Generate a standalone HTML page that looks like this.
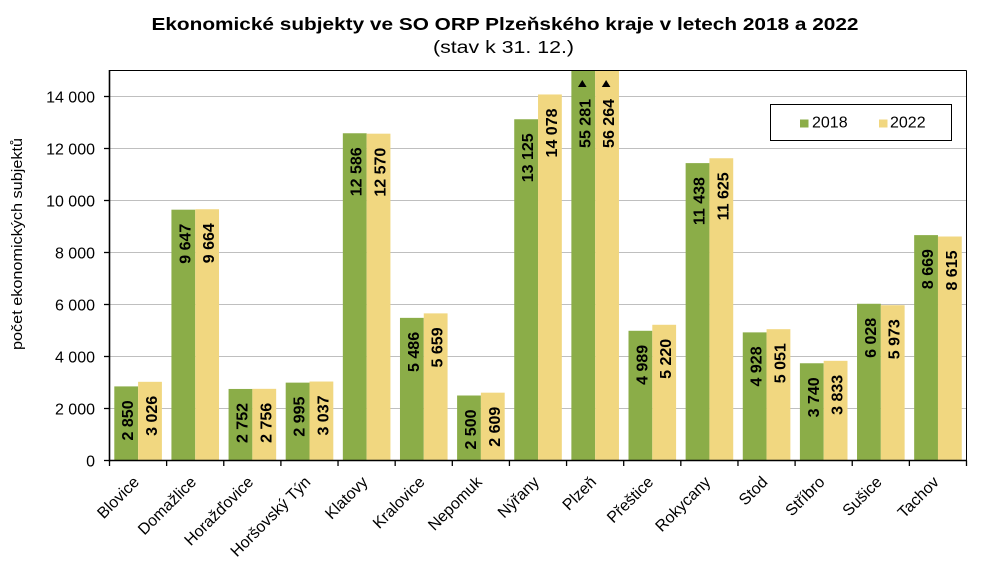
<!DOCTYPE html>
<html>
<head>
<meta charset="utf-8">
<style>
html,body{margin:0;padding:0;background:#fff;}
svg{display:block;}
text{font-family:"Liberation Sans",Arial,sans-serif;fill:#000;}
.yl{font-size:16px;text-anchor:end;}
.xl{font-size:16px;text-anchor:end;}
.dl{font-size:16px;font-weight:bold;text-anchor:end;}
</style>
</head>
<body>
<svg width="1004" height="583" viewBox="0 0 1004 583" xmlns="http://www.w3.org/2000/svg">
<rect x="0" y="0" width="1004" height="583" fill="#fff"/>
<!-- Title -->
<text x="505" y="30" text-anchor="middle" font-size="17.5" font-weight="bold" textLength="707" lengthAdjust="spacingAndGlyphs">Ekonomické subjekty ve SO ORP Plzeňského kraje v letech 2018 a 2022</text>
<text x="503.5" y="53" text-anchor="middle" font-size="17.5" textLength="141" lengthAdjust="spacingAndGlyphs">(stav k 31. 12.)</text>

<!-- gridlines -->
<g stroke="#BFBFBF" stroke-width="1">
<line x1="109.5" y1="408.5" x2="966.5" y2="408.5"/>
<line x1="109.5" y1="356.5" x2="966.5" y2="356.5"/>
<line x1="109.5" y1="304.5" x2="966.5" y2="304.5"/>
<line x1="109.5" y1="252.5" x2="966.5" y2="252.5"/>
<line x1="109.5" y1="200.5" x2="966.5" y2="200.5"/>
<line x1="109.5" y1="148.5" x2="966.5" y2="148.5"/>
<line x1="109.5" y1="96.5" x2="966.5" y2="96.5"/>
</g>

<!-- bars -->
<g fill="#8BAD48">
<rect x="114.3" y="386.4" width="23.8" height="74.1"/>
<rect x="171.43" y="209.68" width="23.8" height="250.82"/>
<rect x="228.57" y="388.95" width="23.8" height="71.55"/>
<rect x="285.7" y="382.63" width="23.8" height="77.87"/>
<rect x="342.83" y="133.26" width="23.8" height="327.24"/>
<rect x="399.97" y="317.86" width="23.8" height="142.64"/>
<rect x="457.1" y="395.5" width="23.8" height="65"/>
<rect x="514.23" y="119.25" width="23.8" height="341.25"/>
<rect x="571.37" y="70.5" width="23.8" height="390"/>
<rect x="628.5" y="330.79" width="23.8" height="129.71"/>
<rect x="685.63" y="163.11" width="23.8" height="297.39"/>
<rect x="742.77" y="332.37" width="23.8" height="128.13"/>
<rect x="799.9" y="363.26" width="23.8" height="97.24"/>
<rect x="857.03" y="303.77" width="23.8" height="156.73"/>
<rect x="914.17" y="235.11" width="23.8" height="225.39"/>
</g>
<g fill="#F1D780">
<rect x="138.1" y="381.82" width="23.8" height="78.68"/>
<rect x="195.23" y="209.24" width="23.8" height="251.26"/>
<rect x="252.37" y="388.84" width="23.8" height="71.66"/>
<rect x="309.5" y="381.54" width="23.8" height="78.96"/>
<rect x="366.63" y="133.68" width="23.8" height="326.82"/>
<rect x="423.77" y="313.37" width="23.8" height="147.13"/>
<rect x="480.9" y="392.67" width="23.8" height="67.83"/>
<rect x="538.03" y="94.47" width="23.8" height="366.03"/>
<rect x="595.17" y="70.5" width="23.8" height="390"/>
<rect x="652.3" y="324.78" width="23.8" height="135.72"/>
<rect x="709.43" y="158.25" width="23.8" height="302.25"/>
<rect x="766.57" y="329.17" width="23.8" height="131.33"/>
<rect x="823.7" y="360.84" width="23.8" height="99.66"/>
<rect x="880.83" y="305.2" width="23.8" height="155.3"/>
<rect x="937.97" y="236.51" width="23.8" height="223.99"/>
</g>

<!-- data labels -->
<g class="dl">
<text class="dl" transform="translate(133.2,400.4) rotate(-90)">2 850</text>
<text class="dl" transform="translate(157.0,395.8) rotate(-90)">3 026</text>
<text class="dl" transform="translate(190.33,223.7) rotate(-90)">9 647</text>
<text class="dl" transform="translate(214.13,223.2) rotate(-90)">9 664</text>
<text class="dl" transform="translate(247.47,403.0) rotate(-90)">2 752</text>
<text class="dl" transform="translate(271.27,402.8) rotate(-90)">2 756</text>
<text class="dl" transform="translate(304.6,396.6) rotate(-90)">2 995</text>
<text class="dl" transform="translate(328.4,395.5) rotate(-90)">3 037</text>
<text class="dl" transform="translate(361.73,147.3) rotate(-90)">12 586</text>
<text class="dl" transform="translate(385.53,147.7) rotate(-90)">12 570</text>
<text class="dl" transform="translate(418.87,331.9) rotate(-90)">5 486</text>
<text class="dl" transform="translate(442.67,327.4) rotate(-90)">5 659</text>
<text class="dl" transform="translate(476.0,409.5) rotate(-90)">2 500</text>
<text class="dl" transform="translate(499.8,406.7) rotate(-90)">2 609</text>
<text class="dl" transform="translate(533.13,133.3) rotate(-90)">13 125</text>
<text class="dl" transform="translate(556.93,108.5) rotate(-90)">14 078</text>
<text class="dl" transform="translate(590.27,99) rotate(-90)">55 281</text>
<text class="dl" transform="translate(614.07,99) rotate(-90)">56 264</text>
<text class="dl" transform="translate(647.4,344.8) rotate(-90)">4 989</text>
<text class="dl" transform="translate(671.2,338.8) rotate(-90)">5 220</text>
<text class="dl" transform="translate(704.53,177.1) rotate(-90)">11 438</text>
<text class="dl" transform="translate(728.33,172.3) rotate(-90)">11 625</text>
<text class="dl" transform="translate(761.67,346.4) rotate(-90)">4 928</text>
<text class="dl" transform="translate(785.47,343.2) rotate(-90)">5 051</text>
<text class="dl" transform="translate(818.8,377.3) rotate(-90)">3 740</text>
<text class="dl" transform="translate(842.6,374.8) rotate(-90)">3 833</text>
<text class="dl" transform="translate(875.93,317.8) rotate(-90)">6 028</text>
<text class="dl" transform="translate(899.73,319.2) rotate(-90)">5 973</text>
<text class="dl" transform="translate(933.07,249.1) rotate(-90)">8 669</text>
<text class="dl" transform="translate(956.87,250.5) rotate(-90)">8 615</text>
</g>
<!-- Plzeň overflow triangles -->
<polygon points="578,87 586.6,87 582.3,80" fill="#000"/>
<polygon points="601.8,87 610.4,87 606.1,80" fill="#000"/>

<!-- plot frame & axes -->
<g stroke="#000" fill="none">
<line x1="109.5" y1="70.5" x2="966.5" y2="70.5" stroke-width="1"/>
<line x1="966.5" y1="70.5" x2="966.5" y2="461" stroke-width="1"/>
<line x1="109.5" y1="70" x2="109.5" y2="461.5" stroke-width="1.6"/>
<line x1="109" y1="460.5" x2="967" y2="460.5" stroke-width="1.6"/>
</g>
<!-- y ticks -->
<g stroke="#000" stroke-width="1.3">
<line x1="104" y1="460.5" x2="109.5" y2="460.5"/>
<line x1="104" y1="408.5" x2="109.5" y2="408.5"/>
<line x1="104" y1="356.5" x2="109.5" y2="356.5"/>
<line x1="104" y1="304.5" x2="109.5" y2="304.5"/>
<line x1="104" y1="252.5" x2="109.5" y2="252.5"/>
<line x1="104" y1="200.5" x2="109.5" y2="200.5"/>
<line x1="104" y1="148.5" x2="109.5" y2="148.5"/>
<line x1="104" y1="96.5" x2="109.5" y2="96.5"/>
</g>
<!-- x ticks -->
<g stroke="#000" stroke-width="1.3">
<line x1="109.5" y1="460.5" x2="109.5" y2="466"/>
<line x1="166.63" y1="460.5" x2="166.63" y2="466"/>
<line x1="223.77" y1="460.5" x2="223.77" y2="466"/>
<line x1="280.9" y1="460.5" x2="280.9" y2="466"/>
<line x1="338.03" y1="460.5" x2="338.03" y2="466"/>
<line x1="395.17" y1="460.5" x2="395.17" y2="466"/>
<line x1="452.3" y1="460.5" x2="452.3" y2="466"/>
<line x1="509.43" y1="460.5" x2="509.43" y2="466"/>
<line x1="566.57" y1="460.5" x2="566.57" y2="466"/>
<line x1="623.7" y1="460.5" x2="623.7" y2="466"/>
<line x1="680.83" y1="460.5" x2="680.83" y2="466"/>
<line x1="737.97" y1="460.5" x2="737.97" y2="466"/>
<line x1="795.1" y1="460.5" x2="795.1" y2="466"/>
<line x1="852.23" y1="460.5" x2="852.23" y2="466"/>
<line x1="909.37" y1="460.5" x2="909.37" y2="466"/>
<line x1="966.5" y1="460.5" x2="966.5" y2="466"/>
</g>

<!-- y tick labels -->
<text class="yl" x="95" y="466.3">0</text>
<text class="yl" x="95" y="414.3">2 000</text>
<text class="yl" x="95" y="362.3">4 000</text>
<text class="yl" x="95" y="310.3">6 000</text>
<text class="yl" x="95" y="258.3">8 000</text>
<text class="yl" x="95" y="206.3">10 000</text>
<text class="yl" x="95" y="154.3">12 000</text>
<text class="yl" x="95" y="102.3">14 000</text>

<!-- y axis title -->
<text transform="translate(22,244) rotate(-90)" text-anchor="middle" font-size="15" textLength="212" lengthAdjust="spacingAndGlyphs">počet ekonomických subjektů</text>

<!-- x labels -->
<text class="xl" transform="translate(140.07,483) rotate(-45)">Blovice</text>
<text class="xl" transform="translate(197.2,483) rotate(-45)">Domažlice</text>
<text class="xl" transform="translate(254.33,483) rotate(-45)">Horažďovice</text>
<text class="xl" transform="translate(311.47,483) rotate(-45)">Horšovský Týn</text>
<text class="xl" transform="translate(368.6,483) rotate(-45)">Klatovy</text>
<text class="xl" transform="translate(425.73,483) rotate(-45)">Kralovice</text>
<text class="xl" transform="translate(482.87,483) rotate(-45)">Nepomuk</text>
<text class="xl" transform="translate(540.0,483) rotate(-45)">Nýřany</text>
<text class="xl" transform="translate(597.13,483) rotate(-45)">Plzeň</text>
<text class="xl" transform="translate(654.27,483) rotate(-45)">Přeštice</text>
<text class="xl" transform="translate(711.4,483) rotate(-45)">Rokycany</text>
<text class="xl" transform="translate(768.53,483) rotate(-45)">Stod</text>
<text class="xl" transform="translate(825.67,483) rotate(-45)">Stříbro</text>
<text class="xl" transform="translate(882.8,483) rotate(-45)">Sušice</text>
<text class="xl" transform="translate(939.93,483) rotate(-45)">Tachov</text>

<!-- legend -->
<rect x="770.5" y="104.5" width="181" height="36" fill="#fff" stroke="#000" stroke-width="1"/>
<rect x="800" y="119.5" width="8.5" height="8" fill="#8BAD48"/>
<text x="812" y="127.5" font-size="16">2018</text>
<rect x="879" y="119.5" width="8.5" height="8" fill="#F1D780"/>
<text x="890" y="127.5" font-size="16">2022</text>
</svg>
</body>
</html>
